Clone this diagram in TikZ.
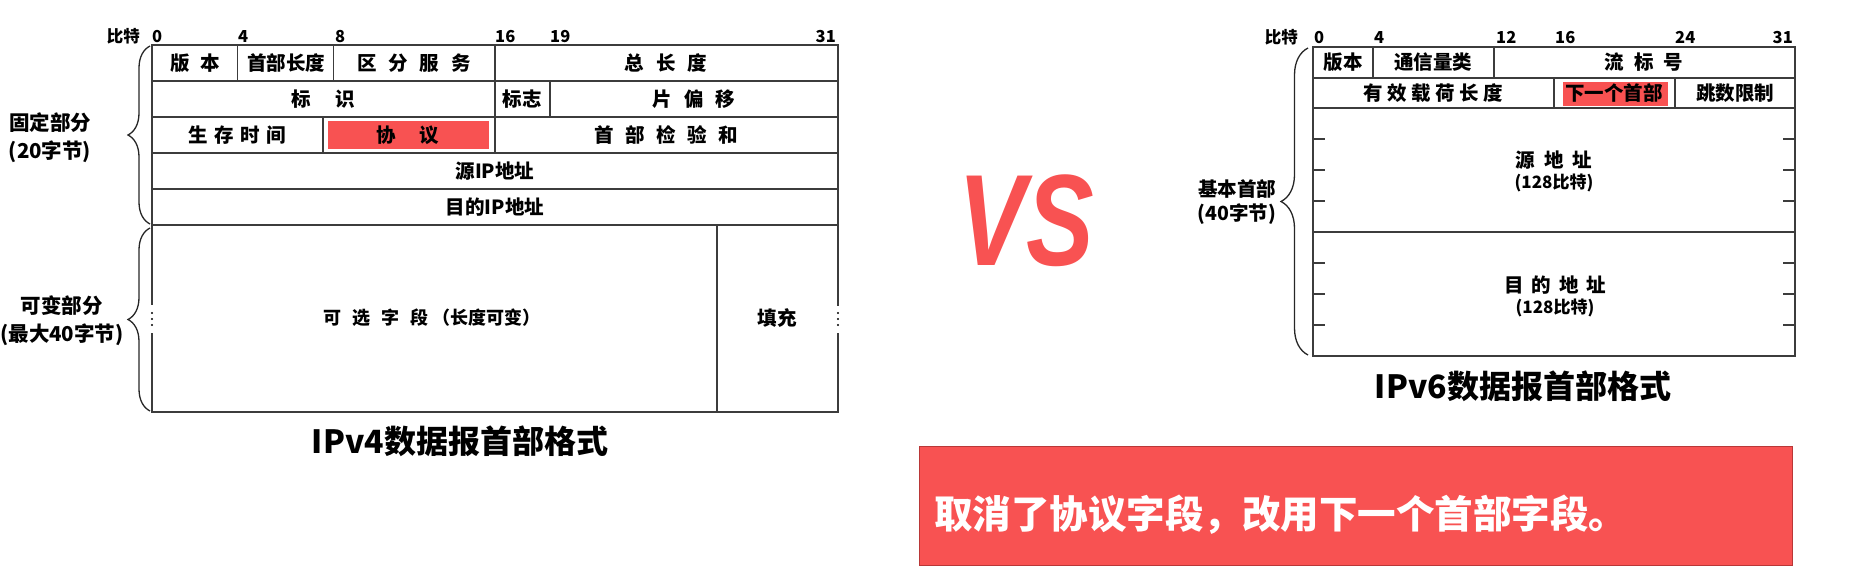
\documentclass[tikz,border=0pt]{standalone}
\usepackage{fontspec}
\setmainfont{Noto Sans CJK SC}
\newfontfamily\vsfont{Liberation Sans}
\usetikzlibrary{decorations.pathreplacing}
\definecolor{hired}{RGB}{248,82,82}
\definecolor{boxborder}{RGB}{185,55,55}
\definecolor{gridc}{RGB}{60,60,60}
\newcommand\sgap[1]{\hspace{#1pt}}
\tikzset{
  cell/.style={font=\bfseries\fontsize{19.5}{22}\selectfont, inner sep=0pt, anchor=center},
  small/.style={font=\bfseries\fontsize{17}{19}\selectfont, inner sep=0pt, anchor=center},
  bitlab/.style={font=\bfseries\fontsize{16.5}{18}\selectfont, inner sep=0pt},
  grid/.style={draw=gridc, line width=1.3pt},
  hibox/.style={fill=hired, draw=white, line width=1pt},
  bracec/.style={decorate, decoration={brace, amplitude=#1}, line width=1.3pt, draw=black!85},
  sidelab/.style={font=\bfseries\fontsize{20.5}{28}\selectfont, align=center, inner sep=0pt},
  title/.style={font=\bfseries\fontsize{32}{36}\selectfont, inner sep=0pt},
  dotc/.style={fill=black, draw=none},
}
\begin{document}
\begin{tikzpicture}[x=1pt,y=-1pt]
\useasboundingbox (0,0) rectangle (1850,576);

% ================= IPv4 =================
\node[bitlab, anchor=base east] (b4bit) at (140,42) {比特};
\node[bitlab, anchor=base west] (b4n0) at (152,42) {0};
\node[bitlab, anchor=base west] (b4n4) at (238,42) {4};
\node[bitlab, anchor=base west] (b4n8) at (335,42) {8};
\node[bitlab, anchor=base west] (b4n16) at (495,42) {16};
\node[bitlab, anchor=base west] (b4n19) at (550,42) {19};
\node[bitlab, anchor=base east] (b4n31) at (836,42) {31};

\draw[grid] (152,45) rectangle (838,412);
\foreach \yy in {81,117,153,189,225} \draw[grid] (152,\yy) -- (838,\yy);
\draw[grid] (237.7,45) -- (237.7,81);
\draw[grid] (333.7,45) -- (333.7,81);
\draw[grid] (495,45) -- (495,153);
\draw[grid] (550,81) -- (550,117);
\draw[grid] (323,117) -- (323,153);
\draw[grid] (717,225) -- (717,412);
\draw[hibox] (327,120) rectangle (489,149);

\node[cell] (v4ver) at (195,63) {版\sgap{11}本};
\node[cell] (v4ihl) at (286,63) {首部长度};
\node[cell] (v4ds) at (414,63) {区\sgap{12}分\sgap{12}服\sgap{12}务};
\node[cell] (v4tl) at (666,63) {总\sgap{12}长\sgap{12}度};
\node[cell] (v4id) at (323,99) {标\sgap{25}识};
\node[cell] (v4fl) at (522,99) {标志};
\node[cell] (v4fo) at (694,99) {片\sgap{12}偏\sgap{12}移};
\node[cell] (v4ttl) at (237,135) {生\sgap{6.5}存\sgap{6.5}时\sgap{6.5}间};
\node[cell] (v4pr) at (408,135) {协\sgap{24}议};
\node[cell] (v4cs) at (666,135) {首\sgap{11.5}部\sgap{11.5}检\sgap{11.5}验\sgap{11.5}和};
\node[cell] (v4src) at (495,171) {源IP地址};
\node[cell] (v4dst) at (495,207) {目的IP地址};
\node[cell, font=\bfseries\fontsize{18}{20}\selectfont] (v4opt) at (432,318) {可\sgap{11}选\sgap{11}字\sgap{11}段\sgap{4}（长度可变）};
\node[cell] (v4pad) at (777,318) {填充};

% vertical ellipsis marks
\fill[white] (140,305) rectangle (166,333);
\fill[white] (822,306) rectangle (854,333);
\foreach \yy in {313,319,325} {
  \fill[dotc] (152,\yy) circle (1.1);
  \fill[dotc] (838,\yy) circle (1.1);
}

\draw[bracec=22pt] (150,224) -- (150,46);
\draw[bracec=22pt] (150,411) -- (150,228);
\node[sidelab] (v4fix) at (50,138) {固定部分\\(20字节)};
\node[sidelab] (v4var) at (62,321) {可变部分\\(最大40字节)};

\node[title] (v4title) at (460,441) {IPv4数据报首部格式};

% ================= VS =================
\node[inner sep=0pt, text=hired] (vs) at (1026,221) {\scalebox{0.78}[1]{\vsfont\bfseries\itshape\fontsize{130}{130}\selectfont VS}};

% ================= IPv6 =================
\node[bitlab, anchor=base east] (b6bit) at (1298,43) {比特};
\node[bitlab, anchor=base west] (b6n0) at (1314,43) {0};
\node[bitlab, anchor=base west] (b6n4) at (1374,43) {4};
\node[bitlab, anchor=base west] (b6n12) at (1496,43) {12};
\node[bitlab, anchor=base west] (b6n16) at (1555,43) {16};
\node[bitlab, anchor=base west] (b6n24) at (1675,43) {24};
\node[bitlab, anchor=base east] (b6n31) at (1793,43) {31};

\draw[grid] (1313,47) rectangle (1795,356);
\foreach \yy in {78,108,232} \draw[grid] (1313,\yy) -- (1795,\yy);
\draw[grid] (1373,47) -- (1373,78);
\draw[grid] (1494,47) -- (1494,78);
\draw[grid] (1554,78) -- (1554,108);
\draw[grid] (1675,78) -- (1675,108);
\foreach \yy in {139,170,201,263,294,325} {
  \draw[grid] (1313,\yy) -- (1325,\yy);
  \draw[grid] (1783,\yy) -- (1795,\yy);
}
\draw[hibox] (1562,81) rectangle (1668,106);

\node[cell] (v6ver) at (1343,62.5) {版本};
\node[cell] (v6tc) at (1433,62.5) {通信量类};
\node[cell] (v6fl) at (1644,62.5) {流\sgap{10}标\sgap{10}号};
\node[cell] (v6pl) at (1433,93) {有\sgap{4.5}效\sgap{4.5}载\sgap{4.5}荷\sgap{4.5}长\sgap{4.5}度};
\node[cell] (v6nh) at (1614,93) {下一个首部};
\node[cell] (v6hl) at (1735,93) {跳数限制};
\node[cell] (v6src) at (1554,160) {源\sgap{9}地\sgap{9}址};
\node[small] (v6srcb) at (1554,183) {(128比特)};
\node[cell] (v6dst) at (1555,285) {目\sgap{8}的\sgap{8}地\sgap{8}址};
\node[small] (v6dstb) at (1555,308) {(128比特)};

\draw[bracec=27pt] (1308,355) -- (1308,48);
\node[sidelab, font=\bfseries\fontsize{19.5}{24}\selectfont] (v6base) at (1237,202) {基本首部\\(40字节)};

\node[title] (v6title) at (1523,386) {IPv6数据报首部格式};

% ================= note box =================
\node[draw=boxborder, fill=hired, line width=1pt, minimum width=873pt, minimum height=119pt, inner sep=0pt] (note) at (1355.5,505.5) {};
\node[anchor=west, inner sep=0pt, text=white, font=\bfseries\fontsize{38.5}{40}\selectfont] (notetext) at (934,515) {取消了协议字段，改用下一个首部字段。};
\end{tikzpicture}
\end{document}
